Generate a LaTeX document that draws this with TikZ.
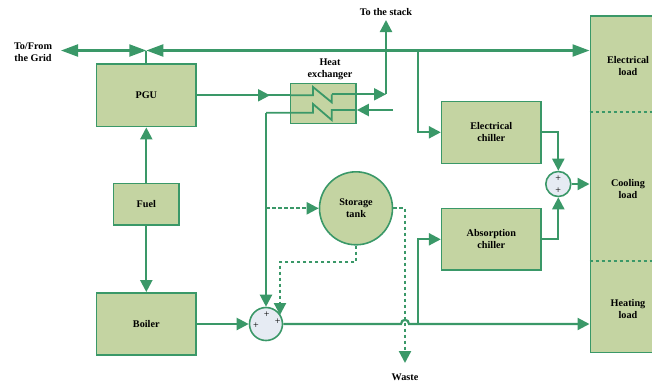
\documentclass[tikz,border=0pt]{standalone}
\usepackage{fontspec}
\setmainfont{Liberation Serif}
\usetikzlibrary{arrows.meta}
\definecolor{lg}{HTML}{3A9868}
\definecolor{bf}{HTML}{C4D4A2}
\definecolor{cf}{HTML}{E6EBF3}
\begin{document}
\begin{tikzpicture}[x=1pt,y=-1pt,
  every node/.style={font=\fontsize{10.2}{12}\selectfont\bfseries, align=center, inner sep=0pt},
  box/.style={draw=lg, fill=bf, line width=1.6pt},
  flow/.style={draw=lg, line width=2.2pt},
  tip/.style={-{Triangle[length=12pt,width=12pt]}},
  dflow/.style={flow, dash pattern=on 3.5pt off 2.5pt},
  sumc/.style={circle, draw=lg, fill=cf, line width=1.6pt},
  plus/.style={font=\fontsize{10}{10}\selectfont}]
\useasboundingbox (0,0) rectangle (652,384);

% boxes
\node[box, minimum width=99.3pt, minimum height=62.7pt] (PGU) at (146.3,95.3) {PGU};
\node[box, minimum width=65.7pt, minimum height=41.7pt] (fuel) at (146.3,204.2) {Fuel};
\node[box, minimum width=99.3pt, minimum height=62.3pt] (boiler) at (146.3,324) {Boiler};
\node[box, minimum width=65.5pt, minimum height=40pt] (HX) at (323.3,103.4) {};
\node (hxlabel) at (330,69) {Heat\\exchanger};
\node[box, minimum width=99.3pt, minimum height=62pt] (elec) at (491.3,132.3) {Electrical\\chiller};
\node[box, minimum width=99.3pt, minimum height=61.3pt] (abs) at (491.3,239.3) {Absorption\\chiller};
\node[box, circle, minimum size=73pt] (tank) at (356,208.3) {Storage\\tank};
\node[sumc, minimum size=25pt] (sum1) at (558.3,184) {};
\node[sumc, minimum size=33pt] (sum2) at (266,324) {};
\node[box, minimum width=69.7pt, minimum height=336.6pt] (load) at (625.15,184) {};

% plus signs
\node[plus] (p1) at (558.3,178.3) {+};
\node[plus] (p2) at (558.3,190.8) {+};
\node[plus] (p3) at (266.7,315) {+};
\node[plus] (p4) at (256,325.7) {+};
\node[plus] (p5) at (277.7,321.7) {+};

% load dividers and labels
\draw[dflow, line width=1.8pt] (load.west |- 0,111.7) -- (652,111.7);
\draw[dflow, line width=1.8pt] (load.west |- 0,260.7) -- (652,260.7);
\node (el) at (628,66) {Electrical\\load};
\node (cl) at (628,189.5) {Cooling\\load};
\node (hl) at (628,309.5) {Heating\\load};

% text labels
\node (grid) at (33,52.5) {To/From\\the Grid};
\node (stack) at (386,12) {To the stack};
\node (waste) at (405,377) {Waste};

% grid connections
\coordinate (gridL) at (61,50.5);
\coordinate (J) at (146.3,50.5);
\draw[flow, {Triangle[length=17pt,width=12pt]}-{Triangle[length=17pt,width=12pt]}] (gridL) -- (J);
\draw[flow, {Triangle[length=17pt,width=12pt]}-{Triangle[length=17pt,width=12pt]}] (J) -- (J -| load.west);
\draw[flow] (PGU.north) -- (J);

% fuel
\draw[flow,tip] (fuel.north) -- (PGU.south);
\draw[flow,tip] (fuel.south) -- (boiler.north);

% PGU -> heat exchanger
\coordinate (hxin) at (HX.west |- PGU.east);
\coordinate (pgumid) at (270,95.3);
\draw[flow] (PGU.east) -- (hxin);
\draw[flow,tip] (PGU.east) -- (pgumid);
\draw[flow, line width=1.8pt] (hxin) -- (313,95.3) -- (313,87) -- (331.7,102.3) -- (331.7,94.3);
\coordinate (stackC) at (386,94.3);
\coordinate (stackTop) at (386,20);
\draw[flow,tip] (331.7,94.3) -- (stackC);
\draw[flow,tip] (stackC) -- (stackTop);

% return to heat exchanger
\coordinate (hxret) at (393,110);
\coordinate (hxretin) at (HX.east |- hxret);
\draw[flow,tip] (hxret) -- (hxretin);
\coordinate (hxdown) at (266,112.7);
\draw[flow, line width=1.8pt] (hxretin) -- (331.7,110) -- (331.7,120) -- (313,104) -- (313,112.7) -- (hxdown);
\draw[flow,tip] (hxdown) -- (sum2.north);

% storage tank
\coordinate (tapT) at (266,208.3);
\draw[dflow,tip] (tapT) -- (tank.west);
\coordinate (wasteC) at (405,208.3);
\coordinate (wasteEnd) at (405,363);
\draw[dflow,tip] (tank.east) -- (wasteC) -- (wasteEnd);
\coordinate (tkA) at (356,262);
\coordinate (tkB) at (280,262);
\coordinate (tkC) at (280,315);
\draw[dflow,tip] (tank.south) -- (tkA) -- (tkB) -- (tkC);

% boiler -> sum2 -> heating load
\draw[flow,tip] (boiler.east) -- (sum2.west);
\coordinate (hopA) at (401,324);
\coordinate (hopB) at (409,324);
\draw[flow,tip] (sum2.east) -- (hopA) .. controls (401,318.5) and (409,318.5) .. (hopB) -- (load.west |- sum2.east);

% chillers
\coordinate (absT) at (417.7,324);
\draw[flow,tip] (absT) |- (abs.west);
\coordinate (elT) at (417.7,50.5);
\draw[flow,tip] (elT) |- (elec.west);
\draw[flow,tip] (elec.east) -| (sum1.north);
\draw[flow,tip] (abs.east) -| (sum1.south);
\draw[flow,tip] (sum1.east) -- (load.west |- sum1.east);
\end{tikzpicture}
\end{document}
